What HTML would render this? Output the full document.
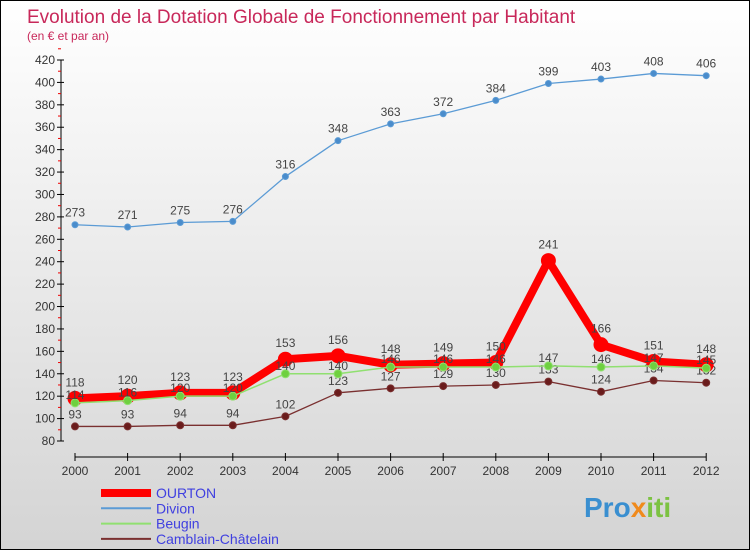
<!DOCTYPE html>
<html><head><meta charset="utf-8"><style>
body{margin:0;width:750px;height:550px;overflow:hidden;font-family:"Liberation Sans",sans-serif}
#c{position:absolute;left:0;top:0;width:748px;height:548px;border:1px solid #000;background:linear-gradient(#fff,#d4d4d4)}
</style></head><body>
<div id="c">
<svg id="s" width="748" height="548">
<text x="26" y="22" font-size="19" fill="#c8285a">Evolution de la Dotation Globale de Fonctionnement par Habitant</text>
<text x="26" y="39" font-size="12" fill="#c8285a">(en € et par an)</text>
<g id="g"></g>
<text x="583" y="516" font-size="28" font-weight="bold" fill="#3a8fd0">Pro<tspan fill="#f08a1c">x</tspan><tspan fill="#7cc242">iti</tspan></text>
</svg></div>
<script>
const years=[2000,2001,2002,2003,2004,2005,2006,2007,2008,2009,2010,2011,2012];
const ourton=[118,120,123,123,153,156,148,149,150,241,166,151,148];
const divion=[273,271,275,276,316,348,363,372,384,399,403,408,406];
const beugin=[114,116,120,120,140,140,146,146,146,147,146,147,145];
const camblain=[93,93,94,94,102,123,127,129,130,133,124,134,132];
const yTicks=[80,100,120,140,160,180,200,220,240,260,280,300,320,340,360,380,400,420];
const NS="http://www.w3.org/2000/svg",g=document.getElementById('g');
const X=i=>74+i*52.6, Y=v=>440-(v-80)*381/340;
function el(t,a,n){const e=document.createElementNS(NS,t);for(const k in a)e.setAttribute(k,a[k]);


g.appendChild(e);return e;}
el('line',{x1:60,y1:Y(420),x2:60,y2:Y(80),stroke:'#000'},'y-axis');
el('line',{x1:74,y1:456,x2:X(12),y2:456,stroke:'#000'},'x-axis');
yTicks.forEach(v=>{el('line',{x1:56,y1:Y(v),x2:63,y2:Y(v),stroke:'#000'},'y-tick');
el('line',{x1:57,y1:Y(v+10),x2:60,y2:Y(v+10),stroke:'#e00'},'y-minor-tick');
const t=el('text',{x:54,y:Y(v)+4,'font-size':12,fill:'#333','text-anchor':'end'},'y-tick-label');t.textContent=v;});
years.forEach((y,i)=>{el('line',{x1:X(i),y1:452,x2:X(i),y2:460,stroke:'#000'},'x-tick');
const t=el('text',{x:X(i),y:474,'font-size':12,fill:'#333','text-anchor':'middle'},'x-tick-label');t.textContent=y;});
function series(d,col,w,r,fill,n,dy){
el('polyline',{points:d.map((v,i)=>X(i)+','+Y(v)).join(' '),fill:'none',stroke:col,'stroke-width':w,'stroke-linejoin':'round'},n+'-line');
d.forEach((v,i)=>{el('circle',{cx:X(i),cy:Y(v),r:r,fill:fill,stroke:col},n+'-point');
const t=el('text',{x:X(i),y:Y(v)+dy,'font-size':12,fill:'#444','text-anchor':'middle'},n+'-value-label');t.textContent=v;});}
series(divion,'#5b9bd5',1.3,3,'#4a8ccb','divion',-8);
series(camblain,'#7a3030',1.3,3.5,'#6a1c1c','camblain',-8);
series(ourton,'#f00',8,7,'#f00','ourton',-12);
series(beugin,'#90e070',1.5,4,'#6fd040','beugin',-4);
const leg=[['OURTON','#f00',8],['Divion','#5b9bd5',2],['Beugin','#90e070',2],['Camblain-Châtelain','#7a3030',2]];
leg.forEach((l,i)=>{const y=492+i*15.3;el('line',{x1:100,y1:y,x2:150,y2:y,stroke:l[1],'stroke-width':l[2]},'legend-swatch');
const t=el('text',{x:155,y:y+5,'font-size':14,fill:'#4040e0'},'legend-entry');t.textContent=l[0];});
</script></body></html>
